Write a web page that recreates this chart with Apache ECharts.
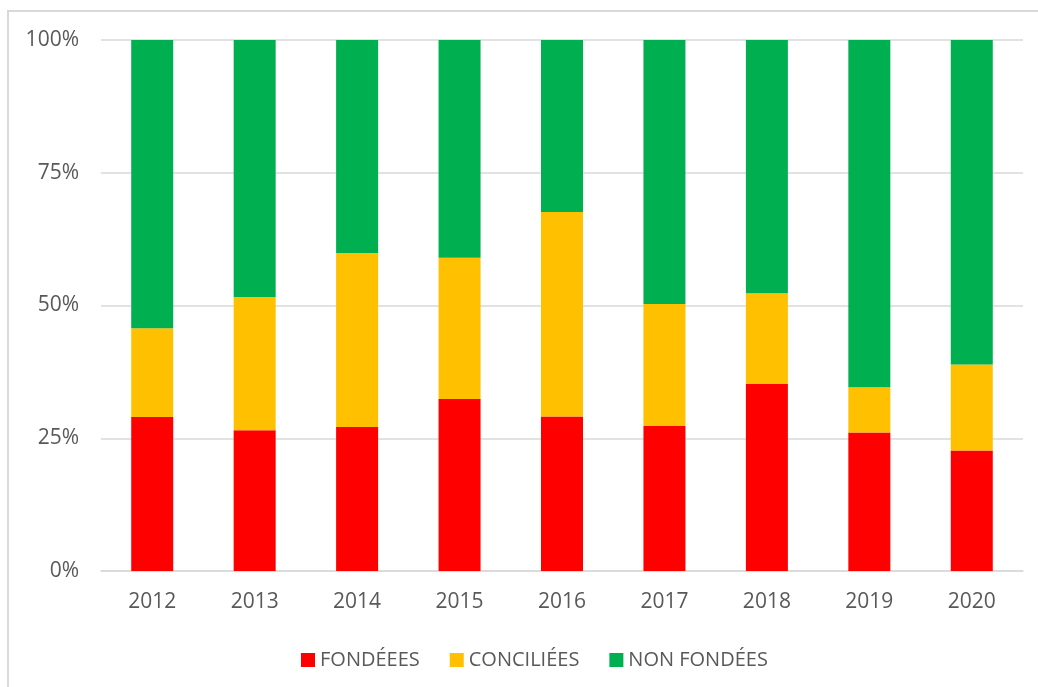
<!DOCTYPE html>
<html>
<head>
<meta charset="utf-8">
<script src="https://cdn.jsdelivr.net/npm/echarts@6/dist/echarts.min.js"></script>
<style>
  html, body { margin: 0; padding: 0; background: #fff; }
  #chart { width: 1038px; height: 687px; }
</style>
</head>
<body>
<div id="chart"></div>
<script>
var years = ['2012', '2013', '2014', '2015', '2016', '2017', '2018', '2019', '2020'];
var fondees = [29.0, 26.5, 27.1, 32.4, 29.1, 27.3, 35.2, 26.1, 22.7];
var conciliees = [16.7, 25.1, 32.8, 26.6, 38.5, 23.0, 17.1, 8.5, 16.2];
var nonFondees = [54.3, 48.4, 40.1, 41.0, 32.4, 49.7, 47.7, 65.4, 61.1];
var yTicks = [0, 25, 50, 75, 100];

var chart = echarts.init(document.getElementById('chart'));
var textColor = '#595959';
var font = '"Open Sans", sans-serif';

var option = {
    animation: false,
    graphic: [{
        type: 'rect',
        shape: { x: 8, y: 11, width: 1100, height: 1000 },
        style: { fill: 'none', stroke: '#d9d9d9', lineWidth: 2 },
        silent: true
    }],
    legend: {
        left: 296,
        top: 645,
        icon: 'rect',
        itemWidth: 14,
        itemHeight: 14,
        itemGap: 30,
        textStyle: { color: textColor, fontSize: 20, fontFamily: font },
        data: ['FONDÉEES', 'CONCILIÉES', 'NON FONDÉES']
    },
    grid: { left: 101, right: 15, top: 40, bottom: 116 },
    xAxis: {
        type: 'category',
        data: years,
        axisLine: { lineStyle: { color: '#d9d9d9', width: 1.5 } },
        axisTick: { show: false },
        axisLabel: { color: textColor, fontSize: 21, fontFamily: font, margin: 21 }
    },
    yAxis: {
        type: 'value',
        min: yTicks[0],
        max: yTicks[yTicks.length - 1],
        interval: 25,
        axisLine: { show: false },
        axisTick: { show: false },
        splitLine: { lineStyle: { color: '#d9d9d9', width: 1.5 } },
        axisLabel: { color: textColor, fontSize: 21, fontFamily: font, margin: 22, formatter: '{value}%' }
    },
    series: [
        { name: 'FONDÉEES', type: 'bar', stack: 'total', barWidth: 42, data: fondees, itemStyle: { color: '#ff0000' } },
        { name: 'CONCILIÉES', type: 'bar', stack: 'total', data: conciliees, itemStyle: { color: '#ffc000' } },
        { name: 'NON FONDÉES', type: 'bar', stack: 'total', data: nonFondees, itemStyle: { color: '#00b050' } }
    ]
};
chart.setOption(option);
</script>
</body>
</html>
